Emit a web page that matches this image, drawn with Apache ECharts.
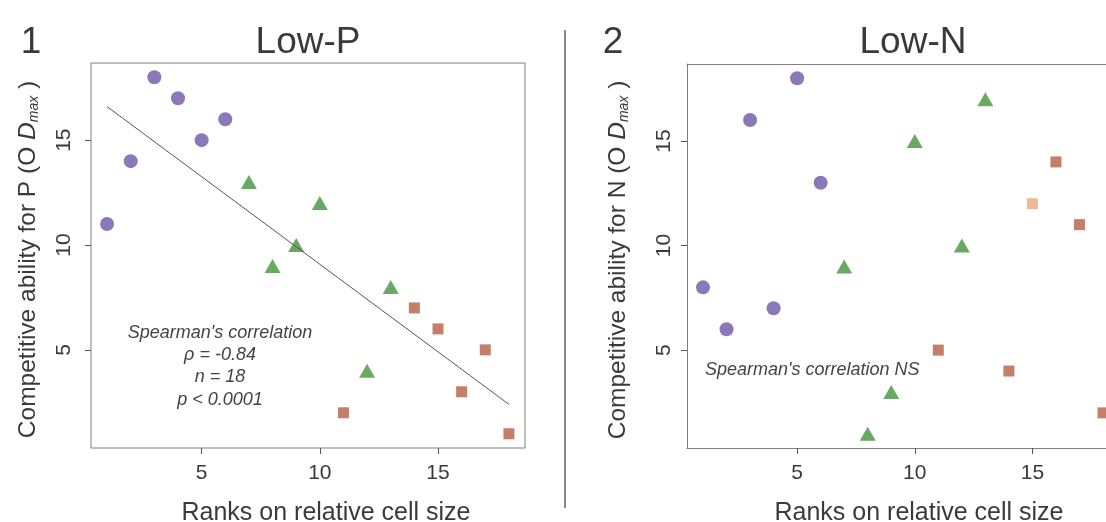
<!DOCTYPE html>
<html><head><meta charset="utf-8">
<script src="https://cdn.jsdelivr.net/npm/echarts@6/dist/echarts.min.js"></script>
<style>html,body{margin:0;padding:0;background:#fff}#c{width:1106px;height:522px}</style>
</head><body><div id="c"></div>
<script>
// ---- data ----
const ranks = [1,2,3,4,5,6,7,8,9,10,11,12,13,14,15,16,17,18];
const lowP = [11,14,18,17,15,16,13,9,10,12,2,4,8,7,6,3,5,1];
const lowN = [8,6,16,7,18,13,9,1,3,15,5,10,17,4,12,14,11,2];
const circleRanks = [1,2,3,4,5,6];
const triangleRanks = [7,8,9,10,12,13];
const squareRanks = [11,14,15,16,17,18];
const highlightN = [15];
const fitX = [1,18];
const fitY = [16.6,2.4];
const xTicks = [5,10,15];
const yTicks = [5,10,15];
const panelTitles = ['Low-P','Low-N'];
const panelNums = ['1','2'];
const yNames = ['Competitive ability for P (O {it|D}{sub|max} )','Competitive ability for N (O {it|D}{sub|max} )'];
const xName = 'Ranks on relative cell size';

const PURPLE='#8b78b8', GREEN='#6aa964', RED='#c47f6a', PEACH='#efb898';
const FONT='Liberation Sans, Arial, sans-serif';
const TXT='#3a3a3a';
const FRAME='#808080';

function pts(vals, rs){ return rs.map(r=>[r, vals[ranks.indexOf(r)]]); }

const chart = echarts.init(document.getElementById('c'), null, {renderer:'canvas'});
const grids=[
  {left:91, top:63, width:434, height:385, show:true, borderColor:FRAME, borderWidth:1, outerBoundsMode:'none', containLabel:false},
  {left:687, top:64, width:432, height:384, show:false, outerBoundsMode:'none', containLabel:false}
];
const xNamePad=[[0,0,0,36],[0,0,0,32]];
function xA(i){return {gridIndex:i,type:'value',min:0.32,max:18.68,position:'bottom',
  axisLine:{show:i===1,onZero:false,lineStyle:{color:FRAME,width:1}},splitLine:{show:false},
  axisTick:{show:true,inside:false,length:6,lineStyle:{color:'#555'},customValues:xTicks},
  axisLabel:{customValues:xTicks,fontSize:21,color:TXT,fontFamily:FONT,margin:15},
  name:xName,nameLocation:'middle',nameGap:53,nameTextStyle:{fontSize:25,color:TXT,fontFamily:FONT,padding:xNamePad[i]}};}
function yA(i){return {gridIndex:i,type:'value',min:0.32,max:18.68,
  axisLine:{show:i===1,onZero:false,lineStyle:{color:FRAME,width:1}},splitLine:{show:false},
  axisTick:{show:true,inside:false,length:6,lineStyle:{color:'#555'},customValues:yTicks},
  axisLabel:{customValues:yTicks,fontSize:21,color:TXT,fontFamily:FONT,rotate:90,margin:i===0?16:12},
  name:yNames[i],nameLocation:'middle',nameGap:i===0?50:56,
  nameTextStyle:{fontSize:24.5,color:TXT,fontFamily:FONT,padding:[0,8,0,0],
    rich:{it:{fontSize:24.5,fontStyle:'italic',color:TXT,fontFamily:FONT},
          sub:{fontSize:14,fontStyle:'italic',color:TXT,fontFamily:FONT,verticalAlign:'bottom',padding:[12,0,0,0]}}}};}
// top border line of panel 2 (its right edge is cut off by the picture)
const topAxis={gridIndex:1,type:'value',min:0.32,max:18.68,position:'top',
  axisLine:{show:true,onZero:false,lineStyle:{color:FRAME,width:1}},axisTick:{show:false},axisLabel:{show:false},splitLine:{show:false}};

function panelSeries(i, vals){
  const s=[];
  s.push({type:'scatter',xAxisIndex:i,yAxisIndex:i,symbol:'circle',symbolSize:14,data:pts(vals,circleRanks),itemStyle:{color:PURPLE,opacity:1},silent:true,clip:false});
  s.push({type:'scatter',xAxisIndex:i,yAxisIndex:i,symbol:'triangle',symbolSize:[16,14],data:pts(vals,triangleRanks),itemStyle:{color:GREEN,opacity:1},silent:true,clip:false});
  s.push({type:'scatter',xAxisIndex:i,yAxisIndex:i,symbol:'rect',symbolSize:11,clip:false,
    data:pts(vals,squareRanks).map(p=>({value:p,itemStyle:{color:(i===1&&highlightN.includes(p[0]))?PEACH:RED}})),itemStyle:{color:RED,opacity:1},silent:true});
  return s;
}
const series=[...panelSeries(0,lowP),...panelSeries(1,lowN)];
series.push({type:'line',xAxisIndex:0,yAxisIndex:0,data:fitX.map((x,k)=>[x,fitY[k]]),symbol:'none',lineStyle:{color:'#555',width:1},z:5,silent:true});

const titleStyle={fontSize:37,fill:TXT,fontFamily:FONT};
const annStyle={fontSize:18,fontStyle:'italic',fill:'#444',fontFamily:FONT};
chart.setOption({
  animation:false,
  backgroundColor:'#fff',
  grid:grids,
  xAxis:[xA(0),xA(1),topAxis], yAxis:[yA(0),yA(1)],
  series,
  graphic:[
    {type:'line',shape:{x1:565,y1:30,x2:565,y2:508},style:{stroke:'#888',lineWidth:2}},
    {type:'text',x:31,y:43,style:Object.assign({text:panelNums[0],textAlign:'center',textVerticalAlign:'middle'},titleStyle)},
    {type:'text',x:308,y:43,style:Object.assign({text:panelTitles[0],textAlign:'center',textVerticalAlign:'middle'},titleStyle)},
    {type:'text',x:613,y:43,style:Object.assign({text:panelNums[1],textAlign:'center',textVerticalAlign:'middle'},titleStyle)},
    {type:'text',x:913,y:43,style:Object.assign({text:panelTitles[1],textAlign:'center',textVerticalAlign:'middle'},titleStyle)},
    {type:'text',x:220,y:333,style:Object.assign({text:"Spearman's correlation",textAlign:'center',textVerticalAlign:'middle'},annStyle)},
    {type:'text',x:220,y:355,style:Object.assign({text:'ρ = -0.84',textAlign:'center',textVerticalAlign:'middle'},annStyle)},
    {type:'text',x:220,y:377,style:Object.assign({text:'n = 18',textAlign:'center',textVerticalAlign:'middle'},annStyle)},
    {type:'text',x:220,y:400,style:Object.assign({text:'p < 0.0001',textAlign:'center',textVerticalAlign:'middle'},annStyle)},
    {type:'text',x:705,y:370,style:Object.assign({text:"Spearman's correlation NS",textAlign:'left',textVerticalAlign:'middle'},annStyle)}
  ]
});
</script></body></html>
